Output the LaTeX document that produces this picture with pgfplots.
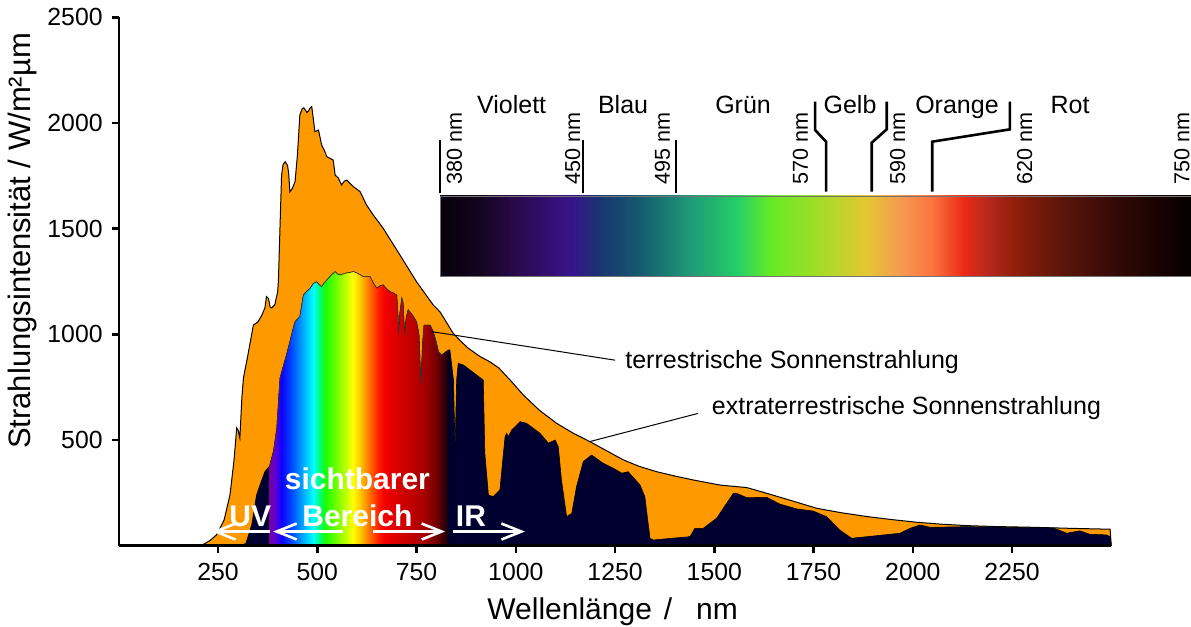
\documentclass[border=0pt]{standalone}
\usepackage{fontspec}
\setmainfont{Liberation Sans}
\usepackage{pgfplots}
\usepackage{pgfplotstable}
\pgfplotsset{compat=1.18}
\usetikzlibrary{arrows.meta}

\definecolor{etorange}{RGB}{255,153,0}
\definecolor{navy}{RGB}{0,0,48}
\tikzset{
  wl/.style={rotate=90, anchor=base west, inner sep=0pt, font=\fontsize{10.8pt}{13pt}\selectfont},
  cn/.style={anchor=base, inner sep=0pt, font=\fontsize{12.5pt}{15pt}\selectfont},
  wb/.style={anchor=base, inner sep=0pt, text=white, font=\fontsize{15pt}{18pt}\selectfont\bfseries},
  warr/.style={white, line width=1.3pt, -{Straight Barb[length=10pt,width=8pt]}},
}

\pgfdeclarehorizontalshading{visible}{100bp}{
rgb(0bp)=(0.47,0,0.63);
rgb(25bp)=(0.47,0,0.63);
rgb(26.7bp)=(0.35,0,0.85);
rgb(28.3bp)=(0.05,0,1);
rgb(31.7bp)=(0,0.35,1);
rgb(35bp)=(0,0.75,1);
rgb(37.2bp)=(0,1,1);
rgb(38.9bp)=(0,1,0.5);
rgb(40.6bp)=(0.1,1,0);
rgb(45bp)=(0.6,1,0);
rgb(48.3bp)=(1,1,0);
rgb(50.6bp)=(1,0.75,0);
rgb(52.8bp)=(1,0.45,0);
rgb(55.6bp)=(1,0.1,0);
rgb(57.2bp)=(0.95,0,0);
rgb(62.8bp)=(0.8,0,0);
rgb(68.3bp)=(0.65,0,0);
rgb(71.7bp)=(0.45,0,0.02);
rgb(75bp)=(0.05,0,0.05);
rgb(100bp)=(0.05,0,0.05)}

\pgfdeclarehorizontalshading{specbar}{100bp}{
rgb(0bp)=(0.02,0,0.04);
rgb(25bp)=(0.02,0,0.04);
rgb(27.7bp)=(0.08,0.02,0.12);
rgb(30.4bp)=(0.17,0.04,0.32);
rgb(33.8bp)=(0.22,0.08,0.55);
rgb(35.5bp)=(0.1,0.2,0.45);
rgb(38.2bp)=(0.08,0.35,0.43);
rgb(41.6bp)=(0.12,0.6,0.47);
rgb(44.9bp)=(0.15,0.82,0.4);
rgb(47bp)=(0.4,0.92,0.15);
rgb(50.4bp)=(0.65,0.86,0.16);
rgb(53.4bp)=(0.9,0.78,0.2);
rgb(55.7bp)=(0.96,0.6,0.32);
rgb(57.8bp)=(0.98,0.45,0.25);
rgb(59.9bp)=(0.92,0.16,0.08);
rgb(61.2bp)=(0.75,0.16,0.12);
rgb(63.4bp)=(0.55,0.12,0.04);
rgb(66.6bp)=(0.35,0.08,0.04);
rgb(70bp)=(0.2,0.04,0.02);
rgb(74.3bp)=(0.04,0,0);
rgb(75bp)=(0.02,0,0);
rgb(100bp)=(0.02,0,0)}

\pgfplotstableread{
x y
200 0
215 8
230 25
246 51
265 120
280 240
290 400
297 557
301 545
305 510
310 700
314 794
325 900
339 1044
351 1060
360 1090
368 1125
372 1179
377 1170
381 1130
385 1125
393 1140
400 1200
402 1250
406 1503
410 1754
414 1805
419 1817
425 1800
428 1760
431 1675
437 1690
444 1723
450 1850
456 2038
462 2068
466 2072
470 2062
474 2050
478 2058
482 2072
486 2078
490 2020
494 1959
503 1967
511 1896
518 1870
524 1841
535 1830
540 1825
545 1754
553 1740
561 1707
568 1725
574 1730
582 1715
591 1699
608 1675
624 1612
641 1565
666 1502
708 1376
750 1249
792 1139
809 1107
842 1006
860 970
880 935
910 895
935 870
958 840
990 775
1019 713
1060 640
1103 579
1145 532
1187 492
1230 448
1271 406
1310 376
1355 350
1400 330
1447 311
1514 287
1582 275
1632 248
1700 210
1758 177
1820 156
1884 138
1950 123
2010 111
2070 102
2136 95
2200 91
2304 87
2400 82
2497 78
2500 0
}\extra

\pgfplotstableread{
x y
300 0
320 10
335 100
347 240
358 300
368 350
380 378
390 450
398 556
406 792
414 847
422 900
431 965
438 1020
444 1060
456 1084
465 1186
473 1202
482 1218
490 1240
498 1249
505 1235
511 1226
518 1245
524 1257
535 1280
545 1297
551 1285
557 1281
570 1289
580 1292
591 1297
600 1290
616 1273
633 1273
642 1240
650 1218
658 1230
666 1234
675 1215
683 1202
692 1195
700 1186
703 1100
705 997
708 1100
713 1171
716 1150
720 997
724 1080
729 1116
740 1090
750 1060
756 1000
761 761
765 950
769 1044
784 1044
792 1013
800 960
805 918
813 902
822 915
830 926
834 926
843 784
847 453
851 784
855 863
868 855
918 784
922 437
931 240
943 232
960 264
973 516
977 532
981 516
990 548
1011 587
1027 579
1061 532
1082 485
1099 500
1107 469
1115 311
1128 137
1141 153
1153 279
1170 398
1191 429
1220 390
1246 366
1267 343
1283 350
1313 287
1325 232
1338 35
1346 27
1439 43
1451 82
1472 82
1506 130
1548 248
1556 248
1582 227
1632 229
1665 197
1708 174
1749 164
1783 137
1816 74
1846 35
1968 59
1993 82
2018 98
2044 87
2136 90
2200 88
2304 85
2354 84
2388 59
2421 70
2446 54
2488 51
2497 43
2500 0
}\terr

\begin{document}
\begin{tikzpicture}
\useasboundingbox (-59.4pt,-40.65pt) rectangle ++(595.5pt,313.5pt);
\begin{axis}[
  at={(0pt,0pt)}, anchor=south west,
  scale only axis, width=496.25pt, height=264.15pt,
  xmin=0, xmax=2500, ymin=0, ymax=2500,
  axis lines=left, axis line style={-, line width=1.25pt},
  tick align=outside, major tick length=3.5pt,
  tick style={line width=1.25pt, black},
  xtick={250,500,...,2250}, ytick={500,1000,...,2500},
  minor tick num=0,
  ticklabel style={font=\fontsize{12.4pt}{14pt}\selectfont},
  /pgf/number format/assume math mode=true,
  /pgf/number format/1000 sep={},
  xticklabel style={anchor=north, inner sep=0pt, yshift=-5.15pt},
  yticklabel style={anchor=east, inner sep=0pt, xshift=-4.4pt},
  xlabel={Wellenlänge\hspace{6pt}/\hspace{12pt}nm},
  ylabel={Strahlungsintensität / W/m²µm},
  every axis x label/.style={at={(axis description cs:0.371,-0.1406)}, anchor=base west, inner sep=0pt, font=\fontsize{15pt}{18pt}\selectfont},
  every axis y label/.style={at={(axis description cs:-0.0888,0.5768)}, rotate=90, anchor=base, inner sep=0pt, font=\fontsize{15.5pt}{18pt}\selectfont},
  clip=false, axis on top,
]
\addplot[draw=black, line width=0.5pt, fill=etorange] table[x=x,y=y] {\extra} \closedcycle;
\addplot[draw=black, line width=0.3pt, fill=navy] table[x=x,y=y] {\terr} \closedcycle;
\addplot[draw=none, shade, shading=visible, restrict x to domain=380:830] table[x=x,y=y] {\terr} \closedcycle;
\addplot[draw=black!80, line width=0.3pt, restrict x to domain=380:830] table[x=x,y=y] {\terr};

\draw[line width=0.5pt] (axis cs:788,1013) -- (axis cs:1250,878);
\node[anchor=base west, inner sep=0pt, font=\fontsize{12.5pt}{15pt}\selectfont] at (axis cs:1275,840) {terrestrische Sonnenstrahlung};
\draw[line width=0.5pt] (axis cs:1187,493) -- (axis cs:1459,626);
\node[anchor=base west, inner sep=0pt, font=\fontsize{12.5pt}{15pt}\selectfont] at (axis cs:1493,623) {extraterrestrische Sonnenstrahlung};

\draw[warr] (axis cs:381,67) -- (axis cs:235,67);
\draw[warr] (axis cs:565,67) -- (axis cs:389,67);
\draw[warr] (axis cs:641,67) -- (axis cs:822,67);
\draw[warr] (axis cs:842,67) -- (axis cs:1023,67);
\node[wb] at (axis cs:331,88.5) {UV};
\node[wb] at (axis cs:601,88.5) {Bereich};
\node[wb] at (axis cs:601,263.6) {sichtbarer};
\node[wb] at (axis cs:887,88.5) {IR};
\end{axis}

\begin{axis}[
  at={(160.6pt,134.5pt)}, anchor=south west,
  scale only axis, width=375.5pt, height=40.35pt,
  xmin=380, xmax=750, ymin=0, ymax=1,
  hide axis, clip=false,
]
\addplot[shade, shading=specbar, draw=black!55, line width=0.4pt] coordinates {(380,0) (750,0) (750,1) (380,1) (380,0)};
\draw[line width=1.3pt] (axis cs:380,1.033) -- (axis cs:380,1.694);
\draw[line width=1.3pt] (axis cs:450.5,1.033) -- (axis cs:450.5,1.694);
\draw[line width=1.3pt] (axis cs:496.3,1.033) -- (axis cs:496.3,1.694);
\draw[line width=1.3pt] (axis cs:564.8,2.168) -- (axis cs:564.8,1.818) -- (axis cs:570.2,1.673) -- (axis cs:570.2,1.053);
\draw[line width=1.3pt] (axis cs:600.1,2.168) -- (axis cs:600.1,1.826) -- (axis cs:592.7,1.660) -- (axis cs:592.7,1.053);
\draw[line width=1.3pt] (axis cs:660.8,2.168) -- (axis cs:660.8,1.826) -- (axis cs:622.5,1.673) -- (axis cs:622.5,1.053);
\node[wl] at (axis cs:390.8,1.134) {380 nm};
\node[wl] at (axis cs:449,1.134) {450 nm};
\node[wl] at (axis cs:493.3,1.134) {495 nm};
\node[wl] at (axis cs:561.3,1.134) {570 nm};
\node[wl] at (axis cs:609.1,1.134) {590 nm};
\node[wl] at (axis cs:671.7,1.134) {620 nm};
\node[wl] at (axis cs:749.2,1.134) {750 nm};
\node[cn] at (axis cs:415.3,2.025) {Violett};
\node[cn] at (axis cs:470.2,2.025) {Blau};
\node[cn] at (axis cs:529.3,2.025) {Grün};
\node[cn] at (axis cs:582,2.025) {Gelb};
\node[cn] at (axis cs:634.7,2.025) {Orange};
\node[cn] at (axis cs:690.4,2.025) {Rot};
\end{axis}
\end{tikzpicture}
\end{document}
